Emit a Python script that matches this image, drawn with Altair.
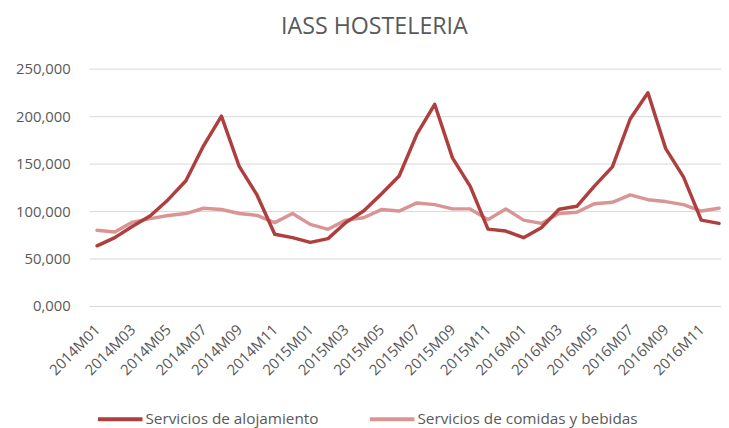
import altair as alt
import pandas as pd

months = [f"{y}M{m:02d}" for y in (2014, 2015, 2016) for m in range(1, 13)]

alojamiento = [63400, 72000, 84000, 95000, 112000, 132000, 169000, 200000, 147000, 117000, 75600, 72000,
               67000, 71000, 88000, 100000, 118000, 137000, 181000, 212500, 156000, 126000, 81000, 79000,
               72000, 82500, 102000, 105000, 126500, 146600, 197000, 224600, 165800, 136000, 90500, 87000]

comidas = [79800, 78000, 88400, 92000, 95400, 97400, 103000, 101600, 97400, 95400, 87800, 97400,
           86000, 80800, 90500, 93000, 101600, 100000, 108600, 106800, 102300, 102300, 91000, 102300,
           90500, 87000, 97400, 98800, 107800, 109200, 117000, 112000, 110000, 106800, 100000, 103000]

s1 = "Servicios de alojamiento"
s2 = "Servicios de comidas y bebidas"

df = pd.concat([
    pd.DataFrame({"mes": months, "valor": comidas, "serie": s2, "o": 0}),
    pd.DataFrame({"mes": months, "valor": alojamiento, "serie": s1, "o": 1}),
])

FONT = "Open Sans"
GREY = "#595959"

chart = alt.Chart(df).mark_line(strokeWidth=3.5, strokeJoin="round", strokeCap="round").encode(
    x=alt.X("mes:O", sort=months,
            scale=alt.Scale(type="point", padding=0.28, align=0.8),
            axis=alt.Axis(title=None, values=months[::2], labelAngle=-45, labelAlign="right",
                          labelBaseline="middle", labelPadding=21, labelFontSize=15,
                          labelColor=GREY, labelFont=FONT, ticks=False, domain=False, grid=False)),
    y=alt.Y("valor:Q", scale=alt.Scale(domain=[0, 250000], nice=False),
            axis=alt.Axis(title=None, values=[0, 50000, 100000, 150000, 200000, 250000],
                          labelExpr="datum.value == 0 ? '0,000' : format(datum.value, ',')",
                          labelFontSize=15, labelColor=GREY, labelFont=FONT, labelPadding=19,
                          ticks=False, domain=False, gridColor="#d9d9d9", gridWidth=1)),
    color=alt.Color("serie:N", scale=alt.Scale(domain=[s1, s2], range=["#AD403E", "#D99594"]),
                    legend=alt.Legend(title=None, orient="none", direction="horizontal",
                                      legendX=7, legendY=330, symbolType="stroke",
                                      symbolSize=2025, symbolStrokeWidth=4, labelFontSize=15.5,
                                      labelColor=GREY, labelFont=FONT, columnPadding=43,
                                      labelOffset=1, labelLimit=400)),
    detail="serie:N",
    order=alt.Order("o:Q"),
).properties(
    width=639, height=240,
    autosize=alt.AutoSizeParams(type="none"),
    padding={"left": 82, "top": 59, "right": 0, "bottom": 121},
    title=alt.TitleParams("IASS HOSTELERIA", fontSize=23.5, font=FONT, fontWeight="normal",
                          color=GREY, anchor="middle", dx=-31, offset=24),
).configure_view(stroke=None)

chart.save("out.html", embed_options={"renderer": "svg", "actions": False})
